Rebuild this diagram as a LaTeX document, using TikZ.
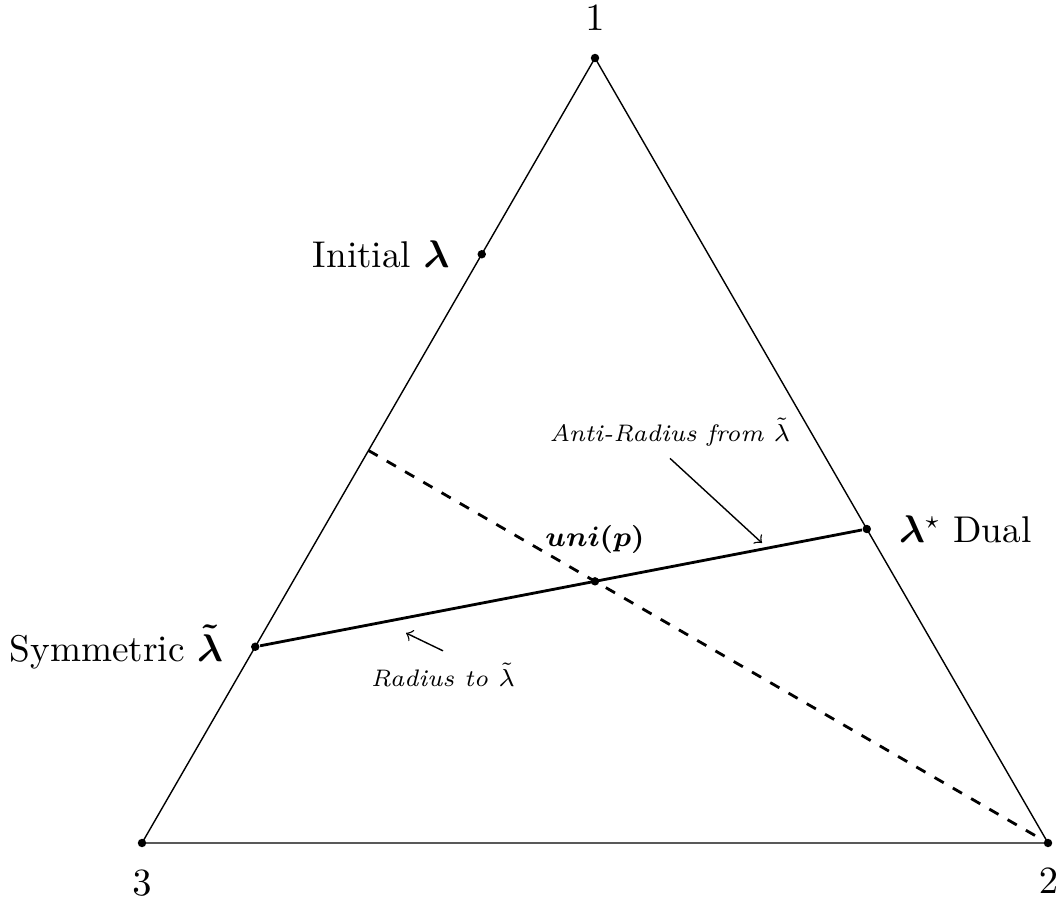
\documentclass[tikz,border=0pt]{standalone}
\usepackage{amsmath}
\usepackage{bm}
\usetikzlibrary{arrows, positioning, calc}

\begin{document}
\begin{tikzpicture}[
    font=\fontsize{10.6}{13}\selectfont,
    dot/.style={circle, fill=black, inner sep=0pt, minimum size=2.4pt},
    note/.style={font=\fontsize{6.8}{8}\selectfont\itshape},
    node distance=1.5mm
  ]
  \useasboundingbox (0,0) rectangle (10.62,9.03);

  % corners of the simplex
  \coordinate (v1) at (5.95,8.45);
  \coordinate (v2) at (10.48,0.60);
  \coordinate (v3) at (1.42,0.60);
  \draw (v1) -- (v2) -- (v3) -- cycle;

  % dashed median and the radius line
  \coordinate (m13) at ($(v1)!0.5!(v3)$);
  \node[dot] (p1) at (v1) {};
  \node[dot] (p2) at (v2) {};
  \node[dot] (p3) at (v3) {};
  \node[dot] (pinit) at ($(v1)!0.25!(v3)$) {};
  \node[dot] (psym) at ($(v1)!0.75!(v3)$) {};
  \node[dot] (pdual) at ($(v1)!0.6!(v2)$) {};
  \node[dot] (puni) at ($1/3*(v1)+1/3*(v2)+1/3*(v3)$) {};

  \draw[thick, dashed] (m13) -- (p2);
  \draw[thick] (psym) -- (pdual);

  % labels
  \node[above=1mm of p1] (l1) {$1$};
  \node[below right=1mm and -2.5mm of p2] (l2) {$2$};
  \node[below=1mm of p3] (l3) {$3$};
  \node[left=of pinit] (linit) {Initial $\boldsymbol{\lambda}$};
  \node[left=of psym] (lsym) {Symmetric $\boldsymbol{\tilde{\lambda}}$};
  \node[right=of pdual] (ldual) {$\boldsymbol{\lambda}^{\star}$ Dual};
  \node[above=1mm of puni, font=\fontsize{7.7}{9}\selectfont] (luni) {$\boldsymbol{uni(p)}$};

  \node[note] (lanti) at (6.70,4.71) {Anti-Radius from $\tilde{\lambda}$};
  \node[note] (lrad) at (4.43,2.28) {Radius to $\tilde{\lambda}$};
  \coordinate (tanti) at (7.62,3.60);
  \coordinate (trad) at (4.06,2.70);
  \draw[->] (lanti.south) -- (tanti);
  \draw[->] (lrad.north) -- (trad);
\end{tikzpicture}
\end{document}
